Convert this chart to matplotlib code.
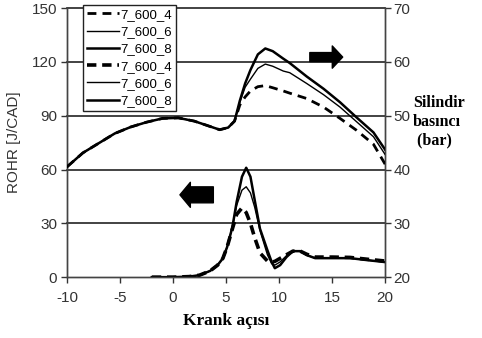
import matplotlib
matplotlib.use("Agg")
import matplotlib.pyplot as plt

plt.rcParams["axes.unicode_minus"] = False

# Crank angle grid and cylinder pressure (bar) for the three cases
crank_p = [-10, -8.5, -7, -5.5, -4, -2.5, -1, 0.5, 2, 3.5, 4.4, 5.2, 5.8, 6.3,
           6.8, 7.3, 8.0, 8.7, 9.4, 10.4, 11.0, 12.6, 14.2, 15.75, 17.3, 18.9, 20]
p_7_600_4 = [40.5, 43.1, 44.9, 46.7, 47.9, 48.8, 49.5, 49.6, 49.0, 48.0, 47.4, 47.8, 49.0, 52.0,
             53.5, 54.6, 55.4, 55.6, 55.2, 54.6, 54.2, 53.2, 51.6, 49.5, 47.3, 44.7, 41.0]
p_7_600_6 = [40.5, 43.1, 44.9, 46.7, 47.9, 48.8, 49.5, 49.6, 49.0, 48.0, 47.4, 47.8, 49.0, 52.5,
             55.3, 56.8, 58.8, 59.6, 59.2, 58.3, 58.0, 56.0, 53.9, 51.6, 48.9, 46.1, 42.8]
p_7_600_8 = [40.5, 43.1, 44.9, 46.7, 47.9, 48.8, 49.5, 49.6, 49.0, 48.0, 47.4, 47.8, 49.0, 52.8,
             56.0, 58.5, 61.4, 62.5, 62.0, 60.6, 59.8, 57.3, 55.0, 52.5, 49.7, 46.9, 43.7]

# Crank angle grid and rate of heat release (J/CAD)
crank_r = [-2, 0, 1.5, 2.5, 3.5, 4.2, 4.7, 5.1, 5.6, 6.0, 6.5, 6.9, 7.3, 7.7, 8.2,
           8.9, 9.3, 9.6, 10.1, 10.7, 11.3, 12.0, 12.6, 13.4, 15, 16.7, 18.3, 20]
r_7_600_4 = [0, 0, 0.3, 1.1, 3.5, 6.7, 10.5, 16.8, 27, 35, 38.6, 36, 30, 22, 13.5,
             9, 8.4, 8.8, 10.5, 12.5, 14.5, 14.5, 12.8, 11.2, 11.2, 11.0, 10.0, 9.0]
r_7_600_6 = [0, 0, 0.3, 1.1, 3.5, 6.7, 10.5, 16.8, 28, 40, 48.5, 50.4, 47, 39, 26,
             12.5, 7.5, 6.7, 8.5, 12, 14.5, 14.5, 12.3, 10.6, 10.6, 10.6, 9.5, 8.4]
r_7_600_8 = [0, 0, 0.3, 1.1, 3.5, 6.7, 10.5, 16.8, 28, 42, 56, 61, 56, 43, 27,
             15, 8.5, 5.0, 6.7, 11.2, 14.5, 14.5, 12.3, 10.6, 10.6, 10.6, 9.5, 8.4]

labels = ["7_600_4", "7_600_6", "7_600_8"]
x_ticks = [-10, -5, 0, 5, 10, 15, 20]
rohr_ticks = [0, 30, 60, 90, 120, 150]
p_ticks = [20, 30, 40, 50, 60, 70]

sans = ["Liberation Sans", "DejaVu Sans"]
serif = ["Liberation Serif", "DejaVu Serif"]
tick_color = "#333333"

fig = plt.figure(figsize=(4.82, 3.38), dpi=100)
ax = fig.add_axes([0.139, 0.180, 0.660, 0.796])
ax2 = ax.twinx()

ax.set_xlim(-10, 20)
ax.set_ylim(0, 150)
ax2.set_ylim(20, 70)

# horizontal grid on the ROHR scale
for yv in rohr_ticks[1:]:
    ax.axhline(yv, color="#222222", lw=1.2, zorder=1, clip_on=False)

dash_p = (0, (3.2, 2.2))
dash_r = (0, (2.6, 1.6))

# heat release curves
h_r4, = ax.plot(crank_r, r_7_600_4, color="k", lw=2.6, ls=dash_r, zorder=3)
h_r6, = ax.plot(crank_r, r_7_600_6, color="k", lw=1.0, zorder=3)
h_r8, = ax.plot(crank_r, r_7_600_8, color="k", lw=1.8, zorder=3)

# cylinder pressure curves
h_p4, = ax2.plot(crank_p, p_7_600_4, color="k", lw=2.0, ls=dash_p, zorder=3)
h_p6, = ax2.plot(crank_p, p_7_600_6, color="k", lw=1.0, zorder=3)
h_p8, = ax2.plot(crank_p, p_7_600_8, color="k", lw=1.8, zorder=3)

ax.set_xticks(x_ticks)
ax.set_yticks(rohr_ticks)
ax2.set_yticks(p_ticks)
for a in (ax, ax2):
    a.tick_params(direction="out", length=4, width=1.0, colors=tick_color,
                  labelsize=11)
    for lbl in a.get_xticklabels() + a.get_yticklabels():
        lbl.set_family(sans)
    for s in a.spines.values():
        s.set_color("#444444")
        s.set_linewidth(1.0)
ax.tick_params(axis="x", pad=6)
ax.tick_params(axis="y", pad=3)
ax2.tick_params(axis="y", pad=2)
ax.spines["top"].set_visible(False)
ax2.spines["top"].set_visible(False)

ax.set_ylabel("ROHR [J/CAD]", family=sans, fontsize=11, color=tick_color,
              labelpad=8)
ax.set_xlabel("Krank açısı", family=serif, fontsize=12.5, fontweight="bold",
              labelpad=6)
fig.text(0.857, 0.640, "Silindir\nbasıncı\n (bar)", family=serif, fontsize=11.5,
         fontweight="bold", ha="left", va="center", linespacing=1.25)

# direction arrows pointing to each curve family's axis
ax2.annotate("", xy=(16.0, 60.9), xytext=(12.9, 60.9),
             arrowprops=dict(arrowstyle="simple,head_length=0.75,head_width=1.6,tail_width=0.65",
                             color="k", shrinkA=0, shrinkB=0), zorder=5)
ax.annotate("", xy=(0.65, 45.9), xytext=(3.8, 45.9),
            arrowprops=dict(arrowstyle="simple,head_length=0.75,head_width=1.8,tail_width=1.15",
                            color="k", shrinkA=0, shrinkB=0), zorder=5)

handles = [h_p4, h_p6, h_p8, h_r4, h_r6, h_r8]
leg = ax2.legend(handles, labels + labels, loc="upper left",
                 bbox_to_anchor=(0.05, 1.012), borderaxespad=0,
                 prop={"family": sans, "size": 9.5}, frameon=True,
                 fancybox=False, edgecolor="#222222", framealpha=1,
                 handlelength=2.4, handletextpad=0.15, labelspacing=0.38,
                 borderpad=0.3)
leg.get_frame().set_linewidth(1.0)
leg.set_zorder(10)

fig.savefig("out.png", dpi=100)
